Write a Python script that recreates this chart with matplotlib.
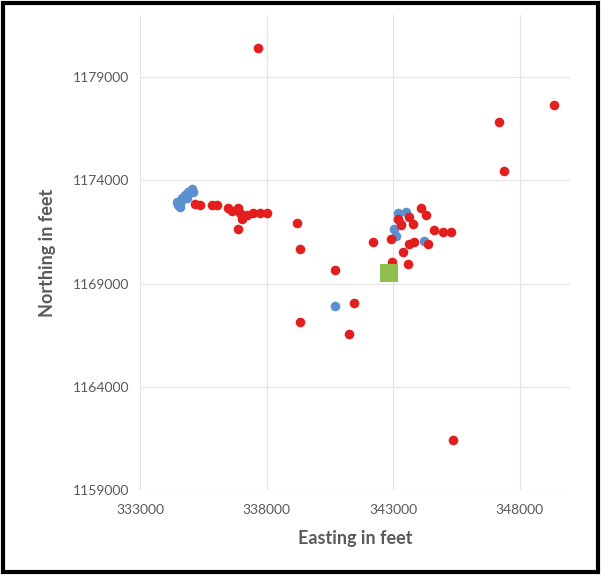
import matplotlib
matplotlib.use("Agg")
from matplotlib import pyplot as plt
from matplotlib.patches import Rectangle

plt.rcParams['font.family'] = ['Lato', 'DejaVu Sans']

# red wells (easting, northing in feet)
red_e = [337670, 349350, 347170, 347370, 345350, 339200, 339300, 340720,
         341470, 339330, 341270, 342190, 342940, 342900, 343370, 343570,
         344090, 344280, 343210, 343290, 343610, 343770, 343610, 343810,
         344360, 344600, 344960, 345270,
         335180, 335380, 335850, 336050, 336480, 336640, 336880, 336960,
         337040, 337240, 337470, 337750, 338030, 336880]
red_n = [1180400, 1177650, 1176800, 1174450, 1161430, 1171950, 1170700, 1169680,
         1168080, 1167150, 1166570, 1171040, 1170070, 1171180, 1170550, 1169970,
         1172640, 1172300, 1172150, 1171820, 1172250, 1171910, 1170940, 1171040,
         1170940, 1171620, 1171520, 1171480,
         1172880, 1172830, 1172790, 1172790, 1172640, 1172540, 1172640, 1172400,
         1172150, 1172300, 1172400, 1172400, 1172400, 1171670]

# blue wells
blue_e = [334470, 334500, 334580, 334660, 334780, 334900, 335060, 335100,
          334600, 334850, 340720, 343180, 343210, 343490, 343020, 343100,
          343300, 344200]
blue_n = [1172930, 1172790, 1172690, 1173130, 1173270, 1173420, 1173560, 1173420,
          1173000, 1173150, 1167930, 1172150, 1172400, 1172490, 1171670, 1171330,
          1171900, 1171090]

# green site
green_e = [342820]
green_n = [1169530]

x_ticks = [333000, 338000, 343000, 348000]
y_ticks = [1159000, 1164000, 1169000, 1174000, 1179000]

fig = plt.figure(figsize=(6.01, 5.75), dpi=100)
ax = fig.add_axes([0.233, 0.147, 0.716, 0.827])

ax.scatter(blue_e, blue_n, s=48, color='#5b8fcf', zorder=3, linewidths=0)
ax.scatter(red_e, red_n, s=48, color='#e31e1e', zorder=3, linewidths=0)
ax.scatter(green_e, green_n, s=170, marker='s', color='#8fbf4f', zorder=3, linewidths=0)

ax.set_xlim(333000, 350000)
ax.set_ylim(1159000, 1182000)
ax.set_xticks(x_ticks)
ax.set_yticks(y_ticks)
ax.set_xticklabels([str(v) for v in x_ticks])
ax.set_yticklabels([str(v) for v in y_ticks])
ax.grid(True, color='#e6e6e6', linewidth=0.9)
ax.set_axisbelow(True)
for s in ax.spines.values():
    s.set_visible(False)
ax.tick_params(length=0, labelsize=10, labelcolor='#595959', pad=8)
ax.tick_params(axis='x', pad=10)

ax.set_xlabel("Easting in feet", fontsize=13, fontweight='bold', color='#595959', labelpad=10)
ax.set_ylabel("Northing in feet", fontsize=13, fontweight='bold', color='#595959', labelpad=12)

fig.patches.append(Rectangle((0.005, 0.005), 0.99, 0.99, transform=fig.transFigure,
                             fill=False, edgecolor='black', linewidth=3))

fig.savefig("out.png", dpi=100)
